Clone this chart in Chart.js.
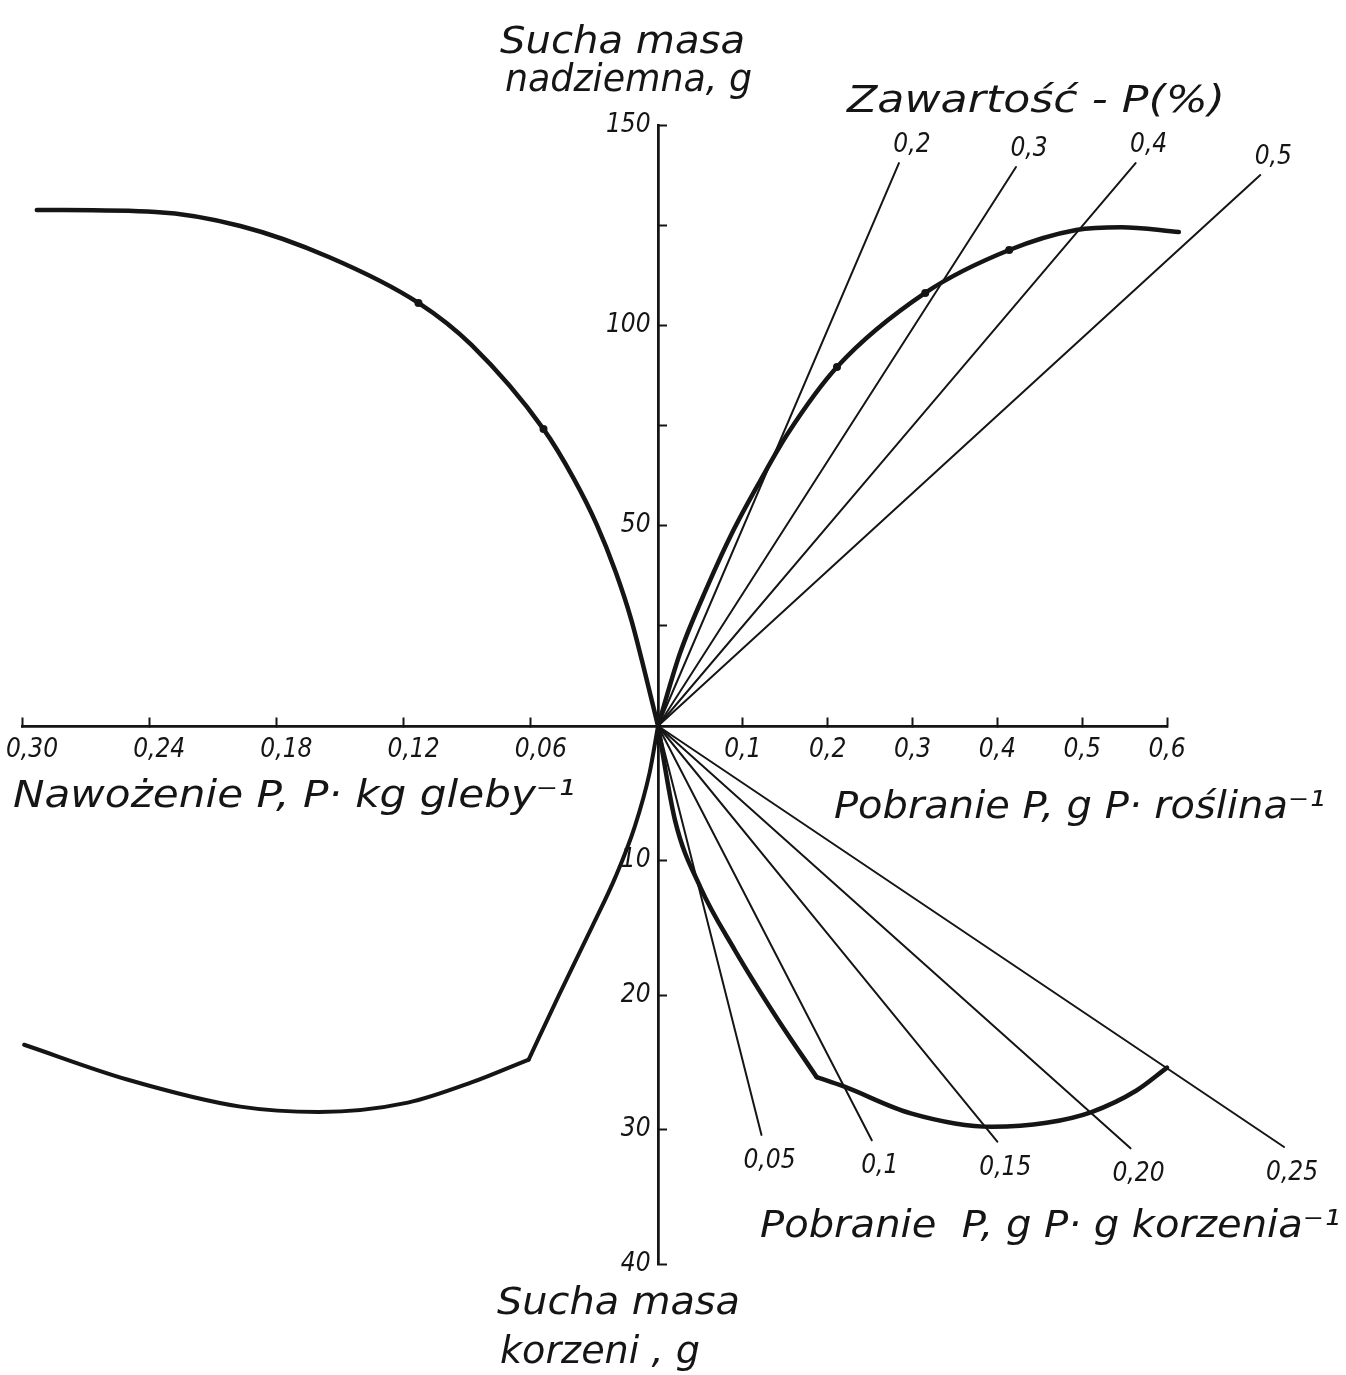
<!DOCTYPE html>
<html>
<head>
<meta charset="utf-8">
<title>Sucha masa a pobranie P</title>
<script src="https://cdn.jsdelivr.net/npm/chart.js@4.4.1/dist/chart.umd.min.js"></script>
<style>
  html, body { margin: 0; padding: 0; background: #fff; }
  canvas { display: block; }
</style>
</head>
<body>
<canvas id="chart" width="1346" height="1375"></canvas>
<script>
const INK = "#151515";
const FONT = "'DejaVu Sans Condensed', 'DejaVu Sans', sans-serif";
const TITLE_FONT = "'DejaVu Sans', sans-serif";

// ticks of the four half-axes
const doseTicks = [0.06, 0.12, 0.18, 0.24, 0.30];
const uptakeTicks = [0.1, 0.2, 0.3, 0.4, 0.5, 0.6];
const shootTicks = [25, 50, 75, 100, 125, 150];
const shootLabels = [50, 100, 150];
const rootTicks = [10, 20, 30, 40];

// upper left: nawozenie P vs sucha masa nadziemna
const doseShootDose = [0, 0.006, 0.0127, 0.020, 0.029, 0.040, 0.054, 0.088, 0.113, 0.155, 0.197, 0.237, 0.293];
const doseShootMass = [0, 13.0, 26.7, 38.5, 50.4, 62.0, 74.1, 95.1, 105.6, 117.0, 124.8, 128.3, 128.8];
const doseShootDotDose = [0.054, 0.113];
const doseShootDotMass = [74.1, 105.6];

// upper right: pobranie P na roslina vs sucha masa nadziemna
const uptakeShootUptake = [0, 0.026, 0.058, 0.089, 0.121, 0.153, 0.211, 0.315, 0.414, 0.493, 0.546, 0.614];
const uptakeShootMass = [0, 18.2, 34.7, 48.9, 61.4, 73.0, 89.6, 108.1, 118.8, 123.8, 124.5, 123.3];
const uptakeShootDotUptake = [0.211, 0.315, 0.414];
const uptakeShootDotMass = [89.6, 108.1, 118.8];

// zawartosc P (%) lines, read at their upper ends
const contentLabels = ["0,2", "0,3", "0,4", "0,5"];
const contentEndUptake = [0.284, 0.422, 0.563, 0.710];
const contentEndMass = [140.5, 139.5, 140.5, 137.5];

// lower left: nawozenie P vs sucha masa korzeni (kink at 0.061)
const doseRootDoseA = [0, 0.004, 0.011, 0.020, 0.031, 0.047, 0.061];
const doseRootMassA = [0, 3.5, 7.5, 11.2, 14.9, 20.1, 24.8];
const doseRootDoseB = [0.061, 0.088, 0.118, 0.160, 0.197, 0.250, 0.299];
const doseRootMassB = [24.8, 26.5, 28.0, 28.7, 28.3, 26.3, 23.7];

// lower right: pobranie P vs sucha masa korzeni (kink at 0.187)
const uptakeRootUptakeA = [0, 0.020, 0.050, 0.090, 0.138, 0.187];
const uptakeRootMassA = [0, 7.0, 12.0, 16.6, 21.5, 26.1];
const uptakeRootUptakeB = [0.187, 0.219, 0.298, 0.394, 0.458, 0.511, 0.564, 0.600];
const uptakeRootMassB = [26.1, 26.8, 28.8, 29.8, 29.5, 28.7, 27.1, 25.4];

// g P per g korzenia lines, read at their lower ends
const rootLabels = ["0,05", "0,1", "0,15", "0,20", "0,25"];
const rootEndUptake = [0.122, 0.252, 0.400, 0.557, 0.738];
const rootEndMass = [30.4, 30.8, 30.9, 31.4, 31.3];

// origin position inside the plot area, as fractions of its width / height
const ORIGIN_FX = 636 / 1145;
const ORIGIN_FY = 601 / 1139;

const pts = (xs, ys) => xs.map((x, i) => ({x: x, y: ys[i]}));

function curve(xs, ys, xAxisID, yAxisID, width) {
  return {
    data: pts(xs, ys),
    xAxisID: xAxisID,
    yAxisID: yAxisID,
    borderColor: INK,
    borderWidth: width,
    pointRadius: 0,
    cubicInterpolationMode: "monotone",
    borderCapStyle: "round",
    clip: false,
    fill: false
  };
}

function dots(xs, ys, xAxisID, yAxisID) {
  return {
    data: pts(xs, ys),
    xAxisID: xAxisID,
    yAxisID: yAxisID,
    showLine: false,
    pointRadius: 4,
    pointBorderWidth: 0,
    pointBackgroundColor: INK,
    clip: false
  };
}

const datasets = [
  curve(doseShootDose, doseShootMass, "xL", "yT", 4.5),
  curve(uptakeShootUptake, uptakeShootMass, "xR", "yT", 4.5),
  curve(doseRootDoseA, doseRootMassA, "xL", "yB", 4),
  curve(doseRootDoseB, doseRootMassB, "xL", "yB", 4),
  curve(uptakeRootUptakeA, uptakeRootMassA, "xR", "yB", 4.5),
  curve(uptakeRootUptakeB, uptakeRootMassB, "xR", "yB", 4.5),
  dots(doseShootDotDose, doseShootDotMass, "xL", "yT"),
  dots(uptakeShootDotUptake, uptakeShootDotMass, "xR", "yT")
];
contentLabels.forEach((label, i) => {
  datasets.push(curve([0, contentEndUptake[i]], [0, contentEndMass[i]], "xR", "yT", 2));
});
rootLabels.forEach((label, i) => {
  datasets.push(curve([0, rootEndUptake[i]], [0, rootEndMass[i]], "xR", "yB", 2));
});

const tickFont = {family: FONT, size: 26, style: "italic"};

function axis(extra, tickExtra) {
  return Object.assign({
    type: "linear",
    border: {display: true, color: INK, width: 2.5},
    grid: {display: true, drawOnChartArea: false, drawTicks: true, tickLength: -10, tickWidth: 2, tickColor: INK},
    ticks: Object.assign({font: tickFont, color: INK, padding: 19, maxRotation: 0, autoSkip: false}, tickExtra),
    afterFit(scale) {
      scale.paddingLeft = 0;
      scale.paddingRight = 0;
      scale.paddingTop = 0;
      scale.paddingBottom = 0;
    }
  }, extra);
}

const titles = [
  ["Sucha masa", 500, 53, 245],
  ["nadziemna, g", 505, 91, 247],
  ["Zawartość - P(%)", 847, 112, 378],
  ["Nawożenie P, P· kg gleby⁻¹", 13, 807, 562],
  ["Pobranie P, g P· roślina⁻¹", 834, 818, 491],
  ["Pobranie  P, g P· g korzenia⁻¹", 760, 1237, 580],
  ["Sucha masa", 497, 1314, 243],
  ["korzeni , g", 500, 1363, 200]
];

function fittedText(ctx, text, x, y, size, width) {
  ctx.save();
  ctx.font = "italic " + size + "px " + TITLE_FONT;
  const w = ctx.measureText(text).width;
  ctx.translate(x, y);
  ctx.scale(width / w, 1);
  ctx.textAlign = "left";
  ctx.textBaseline = "alphabetic";
  ctx.fillText(text, 0, 0);
  ctx.restore();
}

const annotate = {
  id: "annotate",
  afterDraw(chart) {
    const ctx = chart.ctx;
    const s = chart.scales;
    ctx.save();
    ctx.fillStyle = INK;
    ctx.font = "italic 26px " + FONT;
    ctx.textAlign = "center";
    ctx.textBaseline = "alphabetic";
    contentLabels.forEach((label, i) => {
      const x = s.xR.getPixelForValue(contentEndUptake[i]);
      const y = s.yT.getPixelForValue(contentEndMass[i]);
      ctx.fillText(label, x + 13, y - 11);
    });
    rootLabels.forEach((label, i) => {
      const x = s.xR.getPixelForValue(rootEndUptake[i]);
      const y = s.yB.getPixelForValue(rootEndMass[i]);
      ctx.fillText(label, x + 8, y + 33);
    });
    titles.forEach(t => fittedText(ctx, t[0], t[1], t[2], 37, t[3]));
    ctx.restore();
  }
};

new Chart(document.getElementById("chart"), {
  type: "line",
  data: {datasets: datasets},
  options: {
    responsive: false,
    animation: false,
    events: [],
    layout: {padding: {left: 22, top: 125, right: 179, bottom: 111}},
    plugins: {legend: {display: false}, tooltip: {enabled: false}},
    scales: {
      xL: axis({
        reverse: true,
        min: -0.30 * (1 - ORIGIN_FX) / ORIGIN_FX,
        max: 0.30,
        position: {yT: 0},
        afterBuildTicks: scale => { scale.ticks = doseTicks.map(v => ({value: v})); }
      }, {labelOffset: 10, callback: v => v.toFixed(2).replace(".", ",")}),
      xR: axis({
        min: -0.6 * ORIGIN_FX / (1 - ORIGIN_FX),
        max: 0.6,
        position: {yT: 0},
        afterBuildTicks: scale => { scale.ticks = uptakeTicks.map(v => ({value: v})); }
      }, {callback: v => v.toFixed(1).replace(".", ",")}),
      yT: axis({
        min: -150 * (1 - ORIGIN_FY) / ORIGIN_FY,
        max: 150,
        position: {xR: 0},
        afterBuildTicks: scale => { scale.ticks = shootTicks.map(v => ({value: v})); }
      }, {callback: v => shootLabels.includes(v) ? v + " " : ""}),
      yB: axis({
        reverse: true,
        min: -40 * ORIGIN_FY / (1 - ORIGIN_FY),
        max: 40,
        position: {xR: 0},
        afterBuildTicks: scale => { scale.ticks = rootTicks.map(v => ({value: v})); }
      }, {callback: v => v + " "})
    }
  },
  plugins: [annotate]
});
</script>
</body>
</html>
